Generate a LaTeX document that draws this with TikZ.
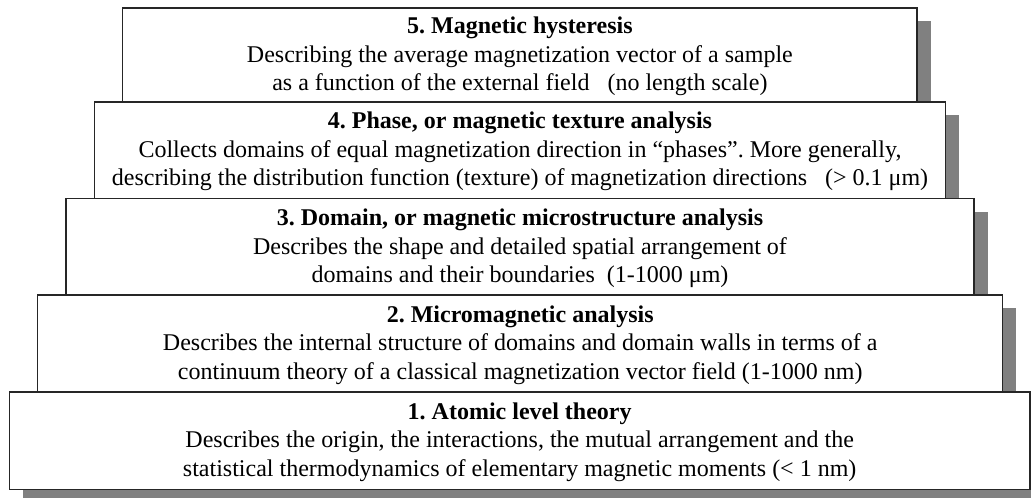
\documentclass[tikz,border=0pt]{standalone}
\usepackage{fontspec}
\setmainfont{Liberation Serif}
\begin{document}
\begin{tikzpicture}[x=0.75pt,y=-0.75pt,
  boxshape/.style={draw=black!85,line width=0.8pt,fill=white},
  shadowshape/.style={fill=black!50,draw=none},
  boxtext/.style={align=center,font=\frenchspacing\fontsize{18}{21.2}\selectfont,inner sep=0pt}]
\useasboundingbox (0,0) rectangle (1031,498);
\def\off{13.5}
% level 5
\fill[shadowshape] (122.7+\off,8+\off) rectangle (917+\off,102+\off);
\draw[boxshape] (122.7,8) rectangle (917,102);
\node[boxtext] (t5) at ({(122.7+917)/2},56.5) {\textbf{5. Magnetic hysteresis}\\Describing the average magnetization vector of a sample\\as a function of the external field~~~(no length scale)};
% level 4
\fill[shadowshape] (94.3+\off,102+\off) rectangle (945.7+\off,198.5+\off);
\draw[boxshape] (94.3,102) rectangle (945.7,198.5);
\node[boxtext] (t4) at ({(94.3+945.7)/2},151.5) {\textbf{4. Phase, or magnetic texture analysis}\\Collects domains of equal magnetization direction in “phases”. More generally,\\describing the distribution function (texture) of magnetization directions~~~(> 0.1 μm)};
% level 3
\fill[shadowshape] (66+\off,198.5+\off) rectangle (974+\off,295+\off);
\draw[boxshape] (66,198.5) rectangle (974,295);
\node[boxtext] (t3) at ({(66+974)/2},248.5) {\textbf{3. Domain, or magnetic microstructure analysis}\\Describes the shape and detailed spatial arrangement of\\domains and their boundaries~~(1-1000 μm)};
% level 2
\fill[shadowshape] (37.7+\off,295+\off) rectangle (1002.7+\off,392+\off);
\draw[boxshape] (37.7,295) rectangle (1002.7,392);
\node[boxtext] (t2) at ({(37.7+1002.7)/2},345) {\textbf{2. Micromagnetic analysis}\\Describes the internal structure of domains and domain walls in terms of a\\continuum theory of a classical magnetization vector field (1-1000 nm)};
% level 1
\fill[shadowshape] (9.3+\off,392+\off) rectangle (1030+\off,489.5+\off);
\draw[boxshape] (9.3,392) rectangle (1030,489.5);
\node[boxtext] (t1) at ({(9.3+1030)/2},442) {\textbf{1. Atomic level theory}\\Describes the origin, the interactions, the mutual arrangement and the\\statistical thermodynamics of elementary magnetic moments (< 1 nm)};
\end{tikzpicture}
\end{document}
